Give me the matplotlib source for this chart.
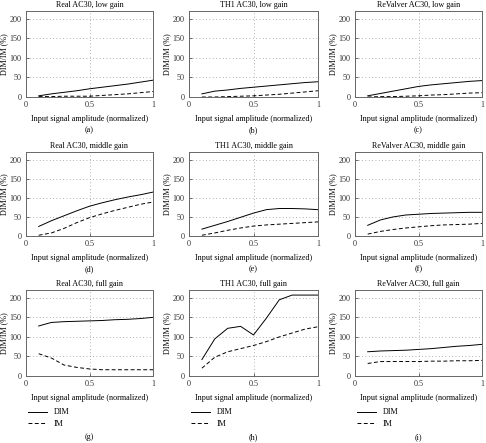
import matplotlib
matplotlib.use("Agg")
import matplotlib.pyplot as plt

plt.rcParams['font.family'] = ['Liberation Serif', 'DejaVu Serif']

x = [0.1, 0.2, 0.3, 0.4, 0.5, 0.6, 0.7, 0.8, 0.9, 1.0]

titles = ["Real AC30, low gain", "TH1 AC30, low gain", "ReValver AC30, low gain",
          "Real AC30, middle gain", "TH1 AC30, middle gain", "ReValver AC30, middle gain",
          "Real AC30, full gain", "TH1 AC30, full gain", "ReValver AC30, full gain"]
letters = ["(a)", "(b)", "(c)", "(d)", "(e)", "(f)", "(g)", "(h)", "(i)"]

# DIM (solid) and IM (dashed) curves, one list per panel
dim_a = [3, 8, 12, 16, 21, 25, 29, 33, 38, 43]
im_a = [1, 1, 2, 2, 2, 4, 6, 8, 11, 14]
dim_b = [8, 15, 18, 22, 25, 28, 31, 34, 37, 39]
im_b = [0, 0, 1, 2, 3, 5, 7, 10, 13, 16]
dim_c = [3, 9, 15, 21, 27, 31, 34, 37, 40, 42]
im_c = [0, 1, 1, 2, 3, 5, 6, 8, 10, 11]
dim_d = [25, 40, 53, 66, 78, 87, 95, 102, 108, 115]
im_d = [2, 8, 20, 35, 48, 58, 67, 75, 83, 89]
dim_e = [18, 28, 38, 49, 60, 69, 72, 72, 71, 69]
im_e = [2, 8, 15, 21, 26, 29, 31, 33, 35, 37]
dim_f = [28, 42, 50, 55, 57, 59, 60, 61, 62, 62]
im_f = [5, 12, 17, 21, 24, 27, 29, 30, 31, 33]
dim_g = [128, 137, 139, 140, 141, 142, 144, 145, 147, 150]
im_g = [57, 46, 28, 22, 18, 16, 16, 16, 16, 16]
dim_h = [42, 95, 122, 127, 105, 148, 195, 207, 207, 207]
im_h = [20, 48, 62, 70, 78, 88, 100, 110, 120, 126]
dim_i = [62, 64, 65, 66, 68, 70, 73, 76, 78, 81]
im_i = [32, 37, 37, 37, 37, 38, 38, 39, 39, 40]

dims = [dim_a, dim_b, dim_c, dim_d, dim_e, dim_f, dim_g, dim_h, dim_i]
ims = [im_a, im_b, im_c, im_d, im_e, im_f, im_g, im_h, im_i]

W, H = 486, 443
fig = plt.figure(figsize=(W / 100, H / 100), dpi=100)

cols = [(26, 153), (189, 318), (355, 482)]
rows = [(11, 97), (152, 236), (290, 376)]

fs = 5.9
for i in range(9):
    r, c = divmod(i, 3)
    x0, x1 = cols[c]
    t, b = rows[r]
    ax = fig.add_axes([x0 / W, 1 - b / H, (x1 - x0) / W, (b - t) / H])
    ax.plot(x, dims[i], color='black', lw=0.7, label='DIM')
    ax.plot(x, ims[i], color='black', lw=0.7, ls=(0, (4, 2.5)), label='IM')
    ax.set_xlim(0, 1)
    ax.set_ylim(0, 220)
    ax.set_xticks([0, 0.5, 1])
    ax.set_xticklabels(["0", "0.5", "1"])
    ax.set_yticks([0, 50, 100, 150, 200])
    ax.grid(True, color='#999999', ls=(0, (1, 3)), lw=0.6)
    for s in ax.spines.values():
        s.set_color('#666666')
        s.set_linewidth(0.7)
    ax.tick_params(labelsize=fs, length=2, width=0.5, direction='in', colors='#333333', pad=3)
    ax.set_title(titles[i], fontsize=fs, pad=3)
    ax.set_ylabel("DIM/IM (%)", fontsize=fs, labelpad=1)
    ax.set_xlabel("Input signal amplitude (normalized)", fontsize=fs, labelpad=4)
    if r == 2:
        ax.legend(loc='upper left', bbox_to_anchor=(-0.02, -0.33), frameon=False,
                  fontsize=fs, handlelength=2.4, handletextpad=0.8, borderpad=0,
                  labelspacing=0.45)
        ax.text(0.5, -0.71, letters[i], transform=ax.transAxes, ha='center', va='center', fontsize=fs)
    else:
        ax.text(0.5, -0.39, letters[i], transform=ax.transAxes, ha='center', va='center', fontsize=fs)

fig.savefig("out.png", dpi=100)
